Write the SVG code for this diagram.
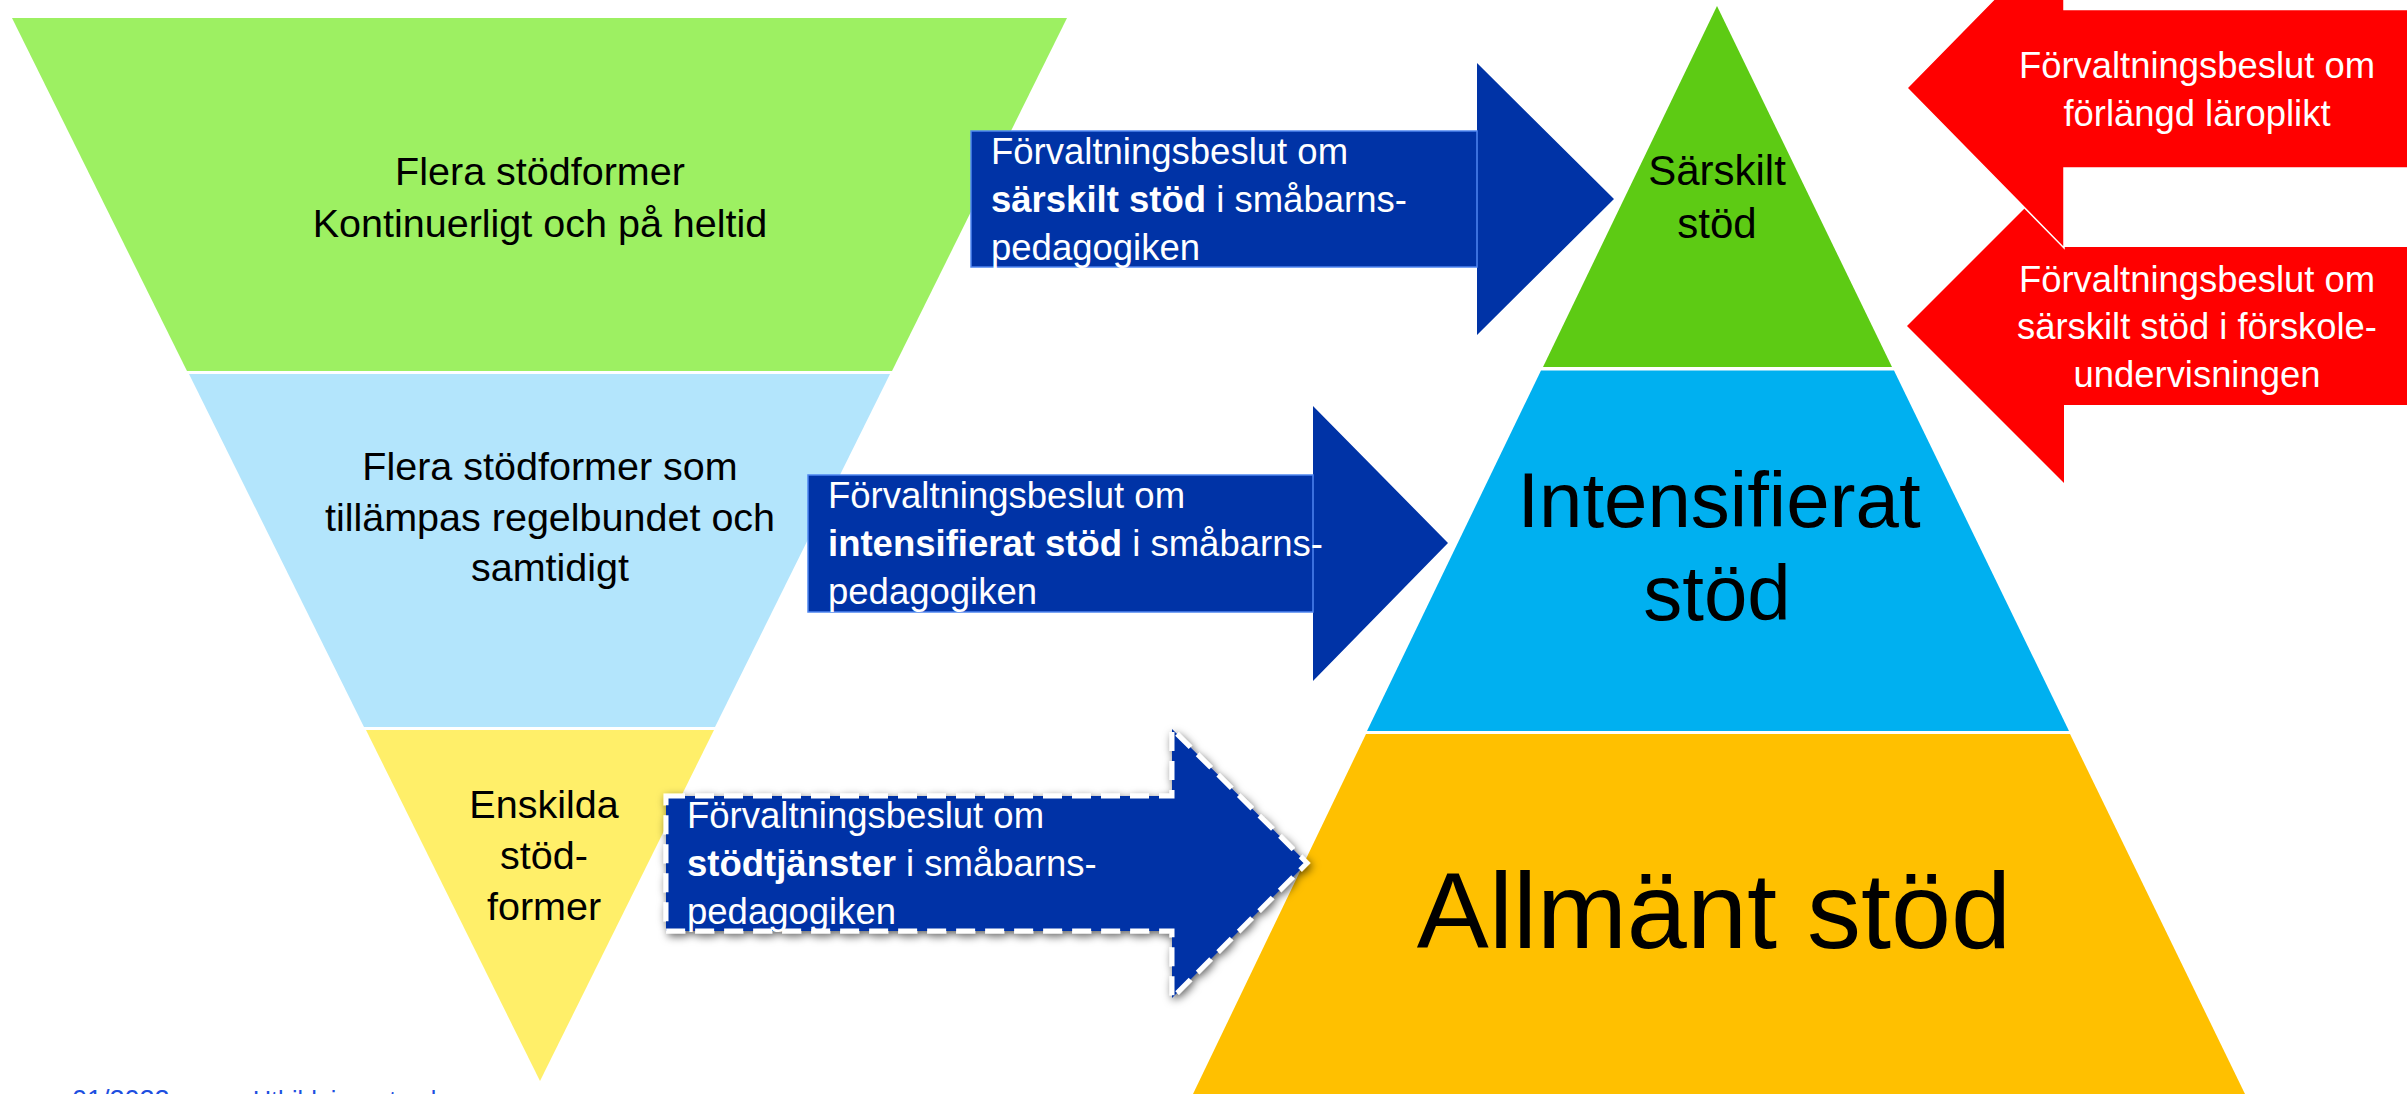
<svg xmlns="http://www.w3.org/2000/svg" width="2407" height="1094" viewBox="0 0 2407 1094">
<defs>
<style>
text{font-family:"Liberation Sans",Arial,sans-serif}
.dark{fill:#000000}
.wt{fill:#ffffff}
.arrowBlue{fill:#0033A6}
.shaftBox{fill:#0033A6;stroke:#4F86F0;stroke-width:1.5}
.red{fill:#FF0000}
.lt{font-size:39.5px;text-anchor:middle}
.at{font-size:36.5px}
.rt{font-size:36.4px;text-anchor:middle}
</style>
<filter id="shadow" x="-10%" y="-10%" width="120%" height="125%">
<feDropShadow dx="2" dy="3" stdDeviation="4" flood-color="#000000" flood-opacity="0.6"/>
</filter>
</defs>
<rect width="2407" height="1094" fill="#ffffff"/>

<g id="funnel-green">
<polygon points="12,18 1067,18 892,371 187,371" fill="#9DF062"/>
<text class="lt dark" x="540" y="185">Flera stödformer</text>
<text class="lt dark" x="540" y="237">Kontinuerligt och på heltid</text>
</g>
<g id="funnel-blue">
<polygon points="189,374 890,374 715,727 364,727" fill="#B3E5FC"/>
<text class="lt dark" x="550" y="480">Flera stödformer som</text>
<text class="lt dark" x="550" y="531">tillämpas regelbundet och</text>
<text class="lt dark" x="550" y="581">samtidigt</text>
</g>
<g id="funnel-yellow">
<polygon points="366,730 714,730 540,1081" fill="#FFEF69"/>
<text class="lt dark" x="544" y="818">Enskilda</text>
<text class="lt dark" x="544" y="869">stöd-</text>
<text class="lt dark" x="544" y="920">former</text>
</g>

<g id="pyramid-green">
<polygon points="1717,6 1892,367 1543,367" fill="#5DCB14"/>
<text class="dark" x="1717" y="185" font-size="42" text-anchor="middle">Särskilt</text>
<text class="dark" x="1717" y="238" font-size="42" text-anchor="middle">stöd</text>
</g>
<g id="pyramid-blue">
<polygon points="1541,370.5 1894,370.5 2069,731 1367,731" fill="#00B0F0"/>
<text class="dark" x="1719" y="527" font-size="78" text-anchor="middle">Intensifierat</text>
<text class="dark" x="1717" y="620" font-size="78" text-anchor="middle">stöd</text>
</g>
<g id="pyramid-orange">
<polygon points="1366,734 2070,734 2245,1094 1193,1094" fill="#FFC000"/>
<text class="dark" x="1714" y="948" font-size="108" text-anchor="middle">Allmänt stöd</text>
</g>

<g id="connectors">
<g id="arrow-sarskilt">
<polygon class="arrowBlue" points="971,131 1477,131 1477,63 1614,199 1477,335 1477,267 971,267"/>
<rect class="shaftBox" x="971" y="131" width="506" height="136"/>
<text class="at wt" x="991" y="164">Förvaltningsbeslut om</text>
<text class="at wt" x="991" y="212"><tspan font-weight="bold">särskilt stöd</tspan> i småbarns-</text>
<text class="at wt" x="991" y="260">pedagogiken</text>
</g>
<g id="arrow-intensifierat">
<polygon class="arrowBlue" points="808,475 1313,475 1313,406 1448,543 1313,681 1313,612 808,612"/>
<rect class="shaftBox" x="808" y="475" width="505" height="137"/>
<text class="at wt" x="828" y="508">Förvaltningsbeslut om</text>
<text class="at wt" x="828" y="556"><tspan font-weight="bold">intensifierat stöd</tspan> i småbarns-</text>
<text class="at wt" x="828" y="604">pedagogiken</text>
</g>
<g id="arrow-stodtjanster">
<polygon class="arrowBlue" points="666,796 1172,796 1172,729 1307,863 1172,998 1172,931 666,931" filter="url(#shadow)" stroke="#ffffff" stroke-width="5" stroke-dasharray="19 10"/>
<text class="at wt" x="687" y="828">Förvaltningsbeslut om</text>
<text class="at wt" x="687" y="876"><tspan font-weight="bold">stödtjänster</tspan> i småbarns-</text>
<text class="at wt" x="687" y="924">pedagogiken</text>
</g>
<g id="arrow-forskole">
<polygon class="red" points="2420,247 2064,247 2064,169 1907,326 2064,483 2064,405 2420,405"/>
<text class="rt wt" x="2197" y="292">Förvaltningsbeslut om</text>
<text class="rt wt" x="2197" y="339">särskilt stöd i förskole-</text>
<text class="rt wt" x="2197" y="387">undervisningen</text>
</g>
<g id="arrow-laroplikt">
<polygon class="red" points="2420,9.5 2064,9.5 2064,-72 1907,88 2064,248 2064,168 2420,168" stroke="#ffffff" stroke-width="1.5"/>
<text class="rt wt" x="2197" y="78">Förvaltningsbeslut om</text>
<text class="rt wt" x="2197" y="126">förlängd läroplikt</text>
</g>
</g>

<g id="footer">
<text x="72" y="1109" font-size="27" fill="#1D4FE0">01/2022</text>
<text x="253" y="1109" font-size="25" fill="#1D4FE0">Utbildningsstyrelsen</text>
</g>
</svg>
